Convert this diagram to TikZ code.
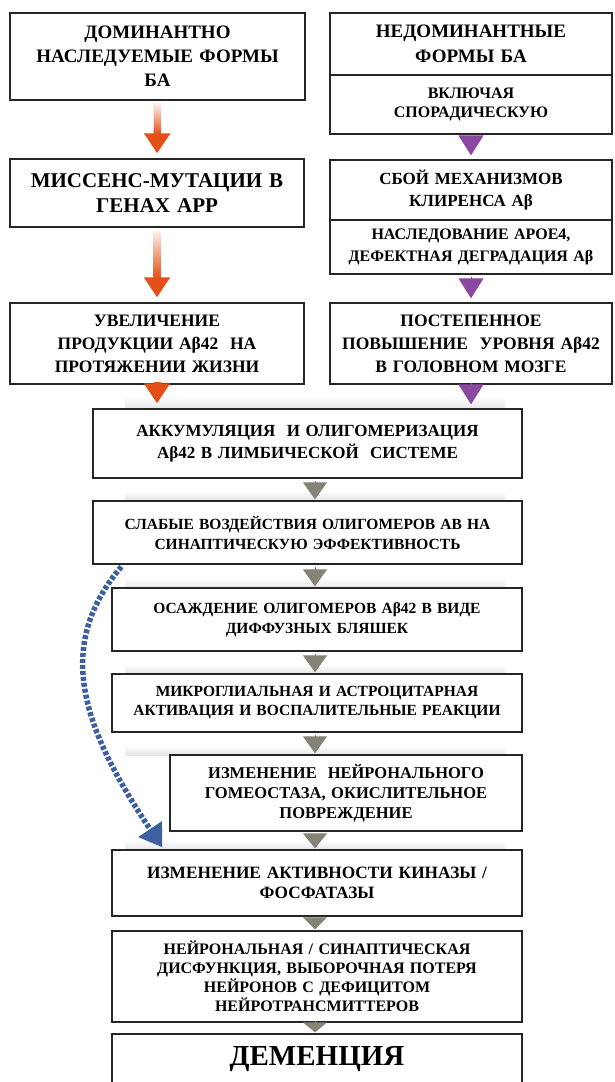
\documentclass[tikz,border=0pt]{standalone}
\usepackage{fontspec}
\setmainfont{Liberation Serif}
\usetikzlibrary{arrows.meta}
\definecolor{orarr}{RGB}{226,80,24}
\definecolor{purarr}{RGB}{140,72,160}
\definecolor{grarr}{RGB}{135,130,118}
\definecolor{bluarr}{RGB}{62,96,160}
\tikzset{
  box/.style={draw=black!85, line width=1.3pt, fill=white, align=center, inner xsep=0pt, inner ysep=2pt},
  fs/.style 2 args={font=\bfseries\fontsize{#1}{#2}\selectfont},
  orline/.style={draw=orarr, line width=7pt, shorten <=3pt, shorten >=5pt, -{Triangle[width=25pt,length=20pt]}},
  puline/.style={draw=purarr, line width=1pt, shorten <=2pt, shorten >=4pt, -{Triangle[width=25pt,length=20pt]}},
  grline/.style={draw=grarr, line width=1pt, shorten <=2pt, shorten >=1pt, -{Triangle[width=24pt,length=#1]}},
  grline/.default=17pt,
  bluline/.style={draw=bluarr, line width=5.5pt, dash pattern=on 4pt off 2pt, -{Triangle[width=27pt,length=22pt]}}
}
\newcommand\orshaft[2]{\shade[top color=orarr!8, bottom color=orarr] ([xshift=-3.6pt,yshift=-3pt]#1) rectangle ([xshift=3.6pt,yshift=24.5pt]#2);}
\begin{document}
\begin{tikzpicture}[x=1pt,y=-1pt]
\useasboundingbox (0,0) rectangle (614,1082);
\clip (0,0) rectangle (614,1082);
\shade[top color=white,bottom color=black!10] (125,396) rectangle (505,409);
\shade[top color=white,bottom color=black!10] (125,490) rectangle (505,501);
\shade[top color=white,bottom color=black!10] (125,577) rectangle (505,588);
\shade[top color=white,bottom color=black!10] (125,664) rectangle (505,674);
\shade[top color=white,bottom color=black!10] (125,745) rectangle (505,755);
\shade[top color=white,bottom color=black!10] (125,840) rectangle (505,850);
\node[box, fs={19}{24}, text width=295pt, minimum height=87pt] (dom) at (157.5,56.5) {ДОМИНАНТНО\\НАСЛЕДУЕМЫЕ ФОРМЫ\\БА};
\node[box, fs={19}{25}, text width=282pt, minimum height=62pt] (ndom) at (471,44) {НЕДОМИНАНТНЫЕ\\ФОРМЫ БА};
\node[box, fs={16}{19}, text width=282pt, minimum height=59pt] (spor) at (471,104.5) {ВКЛЮЧАЯ\\СПОРАДИЧЕСКУЮ};
\node[box, fs={21}{25}, text width=294pt, minimum height=68pt] (mis) at (157,193) {МИССЕНС-МУТАЦИИ В\\ГЕНАХ APP};
\node[box, fs={17}{22}, text width=282pt, minimum height=60pt] (sboi) at (471,190) {СБОЙ МЕХАНИЗМОВ\\КЛИРЕНСА Aβ};
\node[box, fs={16}{22}, text width=282pt, minimum height=54pt] (apoe) at (471,247) {НАСЛЕДОВАНИЕ APOE4,\\ДЕФЕКТНАЯ ДЕГРАДАЦИЯ Aβ};
\node[box, fs={17.5}{23}, text width=294pt, minimum height=81pt] (uvel) at (157,343.5) {УВЕЛИЧЕНИЕ\\ПРОДУКЦИИ Aβ42\ \ НА\\ПРОТЯЖЕНИИ ЖИЗНИ};
\node[box, fs={17.5}{23}, text width=282pt, minimum height=81pt] (post) at (471,343.5) {ПОСТЕПЕННОЕ\\ПОВЫШЕНИЕ\ \ УРОВНЯ Aβ42\\В ГОЛОВНОМ МОЗГЕ};
\node[box, fs={17}{22}, text width=429pt, minimum height=69pt] (akk) at (307.5,443.5) {АККУМУЛЯЦИЯ\ \ И ОЛИГОМЕРИЗАЦИЯ\\Aβ42 В ЛИМБИЧЕСКОЙ\ \ СИСТЕМЕ};
\node[box, fs={15.5}{20}, text width=429pt, minimum height=63pt] (slab) at (307.5,532.5) {СЛАБЫЕ ВОЗДЕЙСТВИЯ ОЛИГОМЕРОВ АВ НА\\СИНАПТИЧЕСКУЮ ЭФФЕКТИВНОСТЬ};
\node[box, fs={15.5}{20}, text width=410pt, minimum height=63pt] (osaz) at (317,619.5) {ОСАЖДЕНИЕ ОЛИГОМЕРОВ Aβ42 В ВИДЕ\\ДИФФУЗНЫХ БЛЯШЕК};
\node[box, fs={15.5}{19}, text width=410pt, minimum height=58pt] (mikr) at (317,703) {МИКРОГЛИАЛЬНАЯ И АСТРОЦИТАРНАЯ\\АКТИВАЦИЯ И ВОСПАЛИТЕЛЬНЫЕ РЕАКЦИИ};
\node[box, fs={16.5}{20}, text width=352pt, minimum height=76pt] (gomeo) at (346,793) {ИЗМЕНЕНИЕ\ \ НЕЙРОНАЛЬНОГО\\ГОМЕОСТАЗА, ОКИСЛИТЕЛЬНОЕ\\ПОВРЕЖДЕНИЕ};
\node[box, fs={17.3}{20}, text width=410pt, minimum height=66pt] (kin) at (317,883) {ИЗМЕНЕНИЕ АКТИВНОСТИ КИНАЗЫ /\\ФОСФАТАЗЫ};
\node[box, fs={16}{19}, text width=410pt, minimum height=91pt] (disf) at (317,976.5) {НЕЙРОНАЛЬНАЯ / СИНАПТИЧЕСКАЯ\\ДИСФУНКЦИЯ, ВЫБОРОЧНАЯ ПОТЕРЯ\\НЕЙРОНОВ С ДЕФИЦИТОМ\\НЕЙРОТРАНСМИТТЕРОВ};
\node[box, fs={29}{32}, text width=410pt, minimum height=50pt] (dem) at (317,1059) {ДЕМЕНЦИЯ};
\coordinate (mid) at (315,0);
\draw[orline] (dom.south) -- (mis.north);
\orshaft{dom.south}{mis.north}
\draw[orline] (mis.south) -- (uvel.north);
\orshaft{mis.south}{uvel.north}
\draw[orline] (uvel.south) -- (uvel.south |- akk.north);
\draw[puline] (spor.south) -- (sboi.north);
\draw[puline] (apoe.south) -- (post.north);
\draw[puline] (post.south) -- (post.south |- akk.north);
\draw[grline] (akk.south -| mid) -- (slab.north -| mid);
\draw[grline] (slab.south -| mid) -- (osaz.north -| mid);
\draw[grline] (osaz.south -| mid) -- (mikr.north -| mid);
\draw[grline] (mikr.south -| mid) -- (gomeo.north -| mid);
\draw[grline=15pt] (gomeo.south -| mid) -- (kin.north -| mid);
\draw[grline=12pt] (kin.south -| mid) -- (disf.north -| mid);
\draw[grline=10pt] (disf.south -| mid) -- (dem.north -| mid);
\coordinate (cs) at ([xshift=29pt,yshift=-2pt]slab.south west);
\coordinate (ce) at ([xshift=51pt,yshift=2pt]kin.north west);
\draw[bluline] (cs) .. controls (55,645) and (80,725) .. (ce);
\end{tikzpicture}
\end{document}
